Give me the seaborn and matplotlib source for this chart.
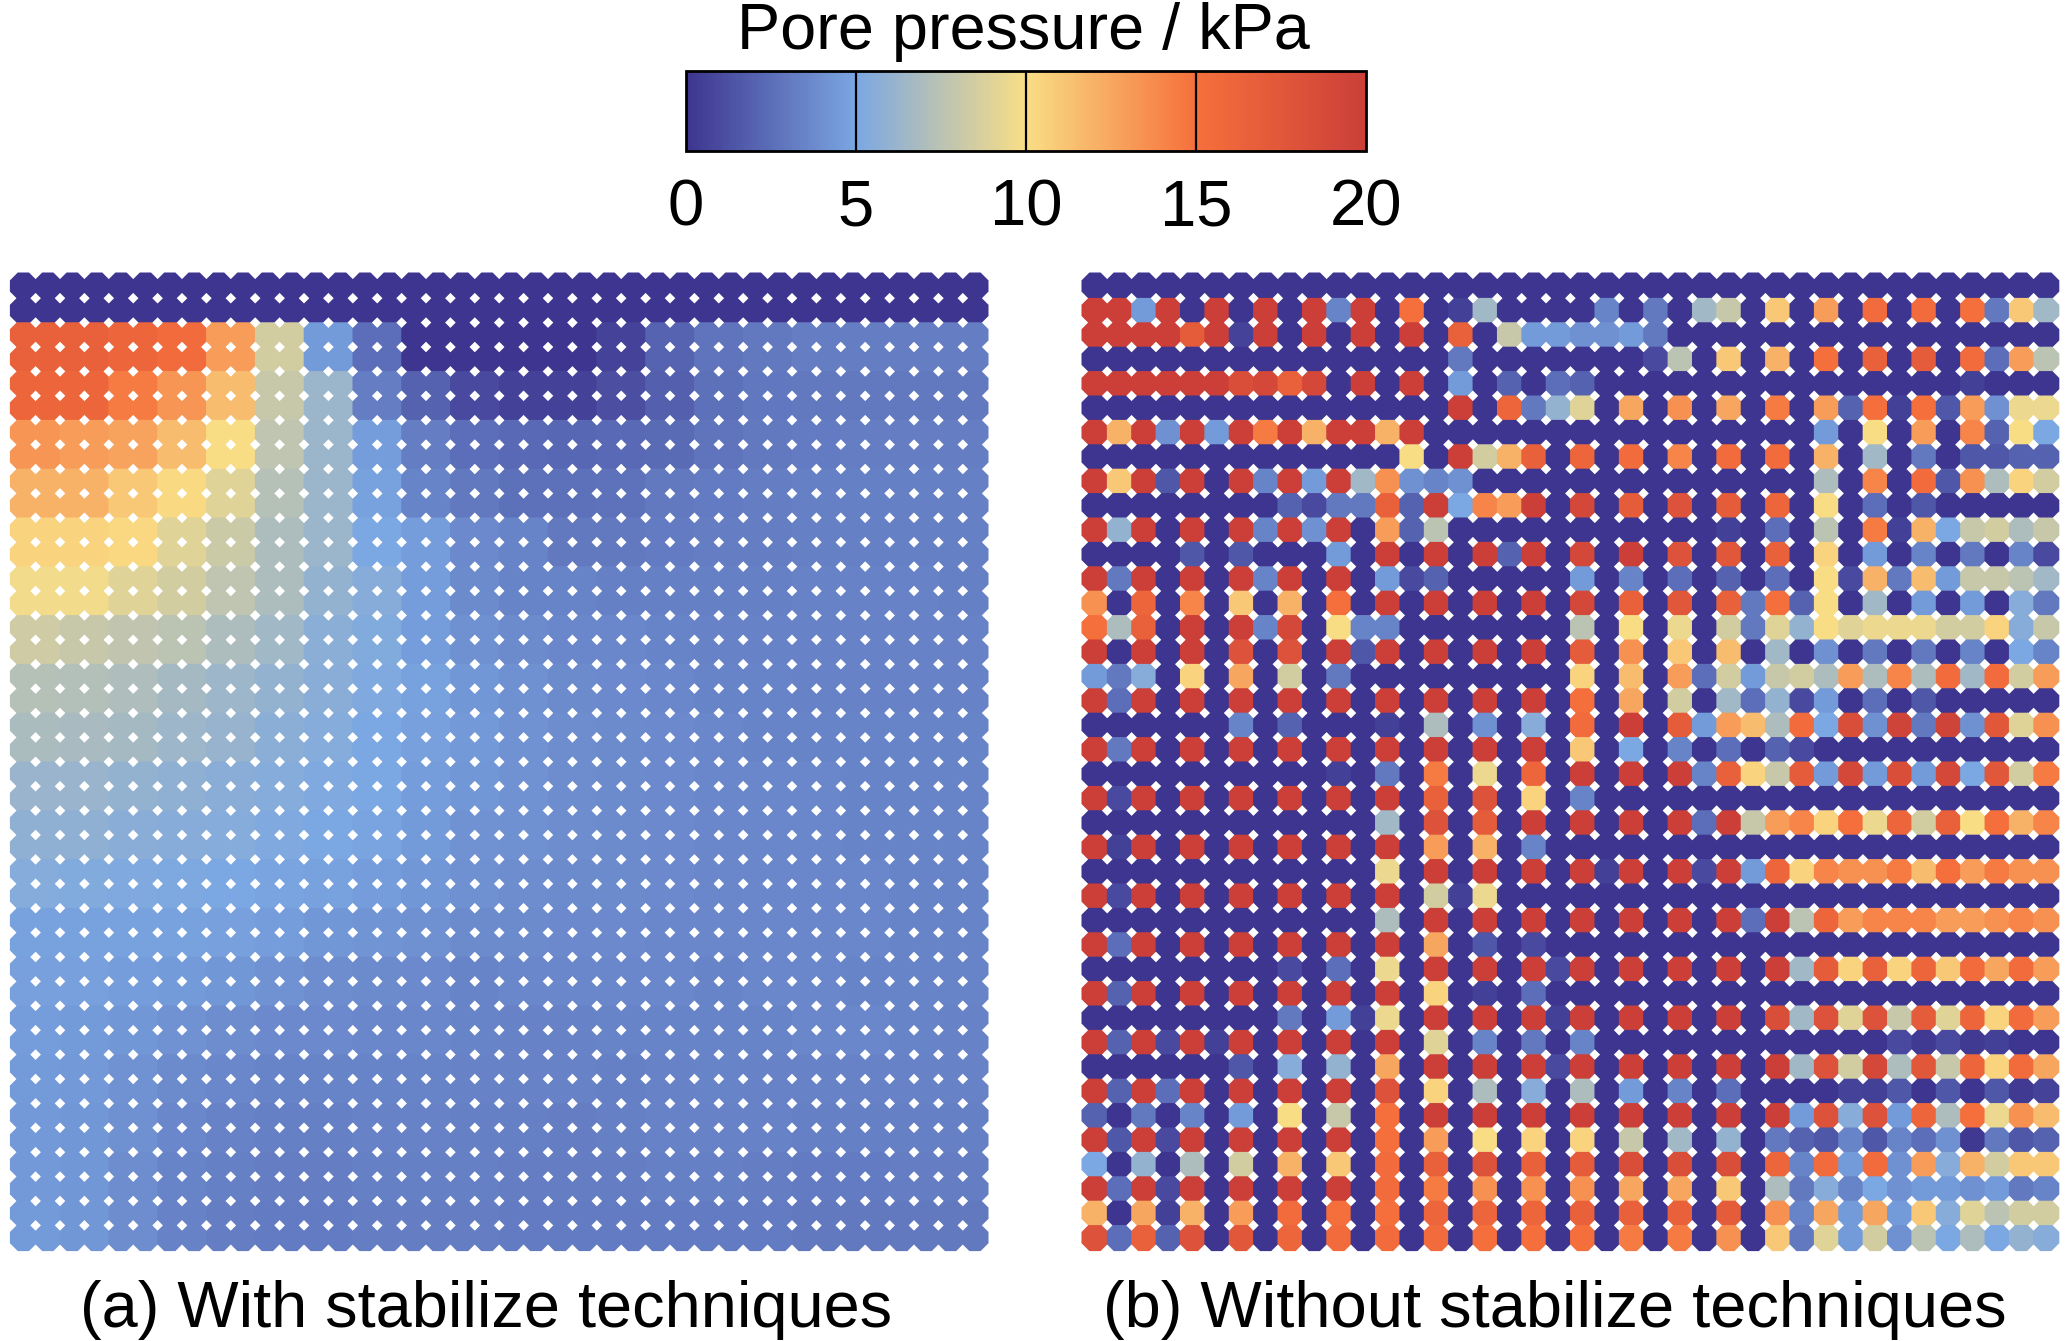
import numpy as np
import pandas as pd
import seaborn as sns
import matplotlib
matplotlib.use('Agg')
import matplotlib.pyplot as plt
from matplotlib.cm import ScalarMappable
from matplotlib.colors import LinearSegmentedColormap, Normalize

sns.set_style('white')
plt.rcParams['font.family'] = ['Liberation Sans', 'DejaVu Sans']
plt.rcParams['text.color'] = 'black'

W, H = 2067, 1341

# colour bar
bar_ticks = [0, 5, 10, 15, 20]
bar_colors = ['#3d358f', '#7ba7e2', '#f9de85', '#f6703c', '#cb3f38']

# (a) with stabilize techniques: value per 2x2 block of measuring points
with_rows = [
    [0] * 20,
    [16.5, 16.5, 16, 15.5, 13, 8.5, 4.5, 2.5, 0, 0, 0, 0, 0.7, 2.1, 2.8, 3, 3.2, 3.2, 3.2, 3.2],
    [16, 16, 14.5, 13.3, 11.5, 8, 6.3, 3.2, 2, 1, 0.6, 0.6, 1.1, 1.9, 2.6, 2.9, 3, 3, 3, 3],
    [13.3, 13, 12.7, 11.5, 10, 7.7, 6.3, 4.6, 3.2, 2.5, 2.3, 2.2, 2.3, 2.4, 2.8, 3, 3.1, 3.2, 3.2, 3.2],
    [12, 12, 11, 10.2, 9, 7.3, 6.3, 4.8, 3.5, 3, 2.6, 2.6, 2.7, 3, 3.1, 3.2, 3.3, 3.3, 3.3, 3.3],
    [10.5, 10.5, 10.3, 9, 8.2, 7, 6.3, 5, 4.6, 3.7, 3.5, 3, 3, 3.1, 3.2, 3.2, 3.3, 3.3, 3.3, 3.3],
    [9.7, 9.7, 9, 8.5, 7.7, 7, 6, 5.5, 4.6, 3.8, 3.5, 3.5, 3.3, 3.3, 3.3, 3.3, 3.4, 3.4, 3.4, 3.3],
    [8.3, 8, 7.8, 7.5, 7, 6.5, 5.7, 5.3, 4.6, 4, 3.8, 3.6, 3.6, 3.5, 3.4, 3.4, 3.4, 3.4, 3.4, 3.4],
    [7.3, 7.2, 7.1, 6.7, 6.4, 6, 5.6, 5.2, 4.8, 4.3, 4, 3.8, 3.7, 3.6, 3.5, 3.5, 3.4, 3.4, 3.4, 3.4],
    [6.9, 6.8, 6.7, 6.4, 6.1, 5.7, 5.4, 5, 4.7, 4.4, 4.1, 3.9, 3.8, 3.7, 3.6, 3.5, 3.5, 3.5, 3.5, 3.5],
    [6.2, 6.2, 6, 5.8, 5.6, 5.4, 5.2, 5, 4.6, 4.3, 4.1, 3.9, 3.8, 3.7, 3.6, 3.6, 3.6, 3.5, 3.5, 3.5],
    [5.8, 5.8, 5.6, 5.5, 5.4, 5.2, 5, 4.9, 4.5, 4.1, 4, 3.9, 3.8, 3.7, 3.6, 3.6, 3.6, 3.5, 3.5, 3.5],
    [5.4, 5.3, 5.2, 5.1, 5, 4.9, 4.8, 4.6, 4.3, 4, 3.9, 3.8, 3.8, 3.7, 3.6, 3.6, 3.6, 3.6, 3.5, 3.5],
    [4.8, 4.8, 4.8, 4.8, 4.7, 4.6, 4.3, 4.2, 4, 3.8, 3.8, 3.7, 3.7, 3.6, 3.6, 3.6, 3.6, 3.6, 3.5, 3.5],
    [4.7, 4.7, 4.6, 4.5, 4.3, 4.1, 3.9, 3.8, 3.7, 3.5, 3.6, 3.6, 3.6, 3.6, 3.5, 3.6, 3.6, 3.5, 3.5, 3.5],
    [4.6, 4.5, 4.3, 4.1, 3.9, 3.7, 3.7, 3.6, 3.6, 3.5, 3.4, 3.4, 3.5, 3.5, 3.5, 3.5, 3.6, 3.6, 3.5, 3.4],
    [4.5, 4.4, 4.1, 3.8, 3.6, 3.5, 3.5, 3.5, 3.5, 3.4, 3.4, 3.4, 3.3, 3.4, 3.5, 3.4, 3.4, 3.4, 3.4, 3.4],
    [4.4, 4.3, 4, 3.6, 3.4, 3.3, 3.3, 3.4, 3.4, 3.3, 3.3, 3.2, 3.3, 3.4, 3.4, 3.4, 3.3, 3.3, 3.3, 3.3],
    [4.4, 4.3, 3.9, 3.5, 3.3, 3.2, 3.2, 3.3, 3.3, 3.3, 3.2, 3.2, 3.2, 3.3, 3.3, 3.2, 3.1, 3.1, 3.2, 3.2],
    [4.5, 4.3, 3.9, 3.4, 3.2, 3.1, 3.1, 3.2, 3.2, 3.2, 3.1, 3.1, 3.1, 3.1, 3.1, 3.1, 3, 3, 3, 3],
]

# (b) without stabilize techniques: one value per measuring point
without_rows = [
    [0] * 40,
    [20, 20, 4.5, 20, 0, 20, 0, 20, 0, 20, 3.5, 20, 0, 15, 0, 0.5, 6.5, 0, 0, 0,
     0, 3.5, 0, 3, 0, 6.5, 8, 0, 11, 0, 13, 0, 15.5, 0, 15.5, 0, 15, 3, 11, 6.5],
    [20, 20, 20, 20, 17, 20, 0.7, 20, 0, 20, 0, 20, 0, 20, 0, 16.5, 0, 8, 4.5, 4.5,
     4, 4, 4.5, 3] + [0] * 16,
    [0] * 15 + [3, 0, 0, 0, 0,
     0, 0, 0, 1, 7.5, 0, 11, 0, 12, 0, 15, 0, 16.5, 0, 17, 0, 15.5, 2.5, 13, 7.5],
    [20, 20, 20, 20, 20, 20, 18.5, 19, 16.5, 19, 0, 20, 0, 20, 0, 4.5, 0, 2, 0, 2.5,
     2] + [0] * 15 + [0.5, 0, 0, 0],
    [0] * 15 + [20, 0, 16, 3, 6,
     9, 0, 12.5, 0, 13.5, 0, 12.5, 0, 14.5, 0, 13, 2, 15, 0.5, 15, 1.5, 13, 4, 9.5, 9.5],
    [20, 12, 20, 4, 20, 4.5, 20, 14.5, 20, 12, 20, 20, 12, 20, 0, 0, 0, 0, 0, 0] + [0] * 10 +
    [4.5, 0, 10, 0, 13, 0, 14, 2, 10, 5],
    [0] * 13 + [10, 0, 20, 8.5, 12, 16.5, 0,
     16, 0, 15.5, 0, 14, 0, 15.5, 0, 15.5, 0, 12, 0, 6.5, 0, 3, 0, 1.5, 1.5, 2, 2],
    [20, 11, 20, 1.5, 20, 0, 20, 3.5, 20, 4.5, 20, 6.5, 13.5, 4, 3.5, 4, 0, 0, 0, 0] + [0] * 10 +
    [7, 0, 14, 0, 15.5, 1.5, 13.5, 7, 10.5, 8.5],
    [0] * 8 + [2, 1, 3, 3, 16.5, 2, 20, 5, 14, 13, 20, 0,
     19, 0, 17, 0, 18, 0, 17, 0, 16, 0, 10, 0, 2.5, 0, 1.5, 0, 0, 0, 0, 0],
    [20, 6, 20, 0, 20, 0, 20, 3.5, 20, 4, 20, 0, 13, 2, 7.5, 0, 0, 0, 0, 0] + [0] * 6 +
    [0.5, 0, 2.5, 0, 7.5, 0, 14.5, 0.5, 12, 5, 8, 8.5, 7, 8],
    [0, 0, 0, 0, 1.5, 0, 1.5, 0, 0, 0, 4.5, 0, 20, 0, 20, 0, 20, 2, 20, 0,
     19, 0, 20, 0, 18, 0, 17.5, 0, 16.5, 0, 10.5, 0, 4.5, 0, 3.5, 0, 3, 0, 3.5, 1],
    [20, 3, 20, 0, 20, 0, 20, 3.5, 20, 0, 20, 0, 4.5, 1, 2, 0, 0, 0, 0, 0,
     4.5, 0, 3.5, 0, 2.5, 0, 2, 0, 2.5, 0, 10, 1, 12, 3, 11.5, 4.5, 8, 8, 7.5, 6.5],
    [13.5, 0, 16, 0, 14, 0, 11, 0, 12, 0, 15, 0, 20, 0, 20, 0, 20, 0, 20, 0,
     19, 0, 16.5, 0, 17.5, 0, 16.5, 3, 15, 2, 10, 0, 6.5, 0, 4.5, 0, 4.5, 0, 5.5, 3],
    [15, 7, 16.5, 0, 20, 0, 20, 3.5, 19, 0, 10, 3.5, 3.5, 0, 0, 0, 0, 0, 0, 0,
     7.5, 0, 10, 0, 9.5, 0, 8.5, 3, 9, 6, 10, 9, 9.5, 9.5, 9.5, 8.5, 8.5, 10.5, 5.5, 8],
    [20, 0, 20, 0, 20, 0, 18, 0, 18, 0, 20, 1.5, 20, 0, 20, 0, 20, 0, 20, 0,
     17, 0, 13.5, 0, 11, 0, 11.5, 0, 6.5, 0, 4, 0, 3, 0, 3, 0, 3.5, 0, 5, 3.5],
    [4.5, 3, 5.5, 0, 10.5, 0, 12.5, 0, 8.5, 0, 3, 0, 0, 0, 0, 0, 0, 0, 0, 0,
     10.5, 0, 11.5, 0, 13, 2.5, 8.5, 4.5, 8, 8.5, 7, 13, 7, 14, 7, 15.5, 6.5, 15.5, 8.5, 13],
    [20, 2.5, 20, 0, 20, 0, 20, 0, 20, 0, 20, 0, 20, 0, 20, 0, 20, 0, 20, 0,
     15, 0, 12.5, 0, 8.5, 0, 6.5, 2.5, 6, 1, 4.5, 0, 2.5, 0, 1.5, 0, 0, 0, 0, 0],
    [0, 0, 0, 0, 0, 0, 3.5, 0, 2, 0, 0, 0, 0.5, 0, 7, 0, 4, 0, 5.5, 0,
     15.5, 0, 20, 0, 17, 4.5, 13, 11.5, 7, 15.5, 5, 18.5, 4, 19.5, 3, 19.5, 4, 17.5, 9, 13.5],
    [20, 3, 20, 0, 20, 0, 20, 0, 20, 0, 20, 0, 20, 0, 20, 0, 20, 0, 20, 0,
     11, 0, 5, 0, 3.5, 0, 2.5, 0, 2, 1] + [0] * 10,
    [0] * 10 + [0.5, 0, 3, 0, 14.5, 0, 9.5, 0, 16, 0,
     20, 0, 20, 0, 20, 3.5, 16.5, 10.5, 8, 17, 4.5, 19, 4.5, 18.5, 4.5, 19, 5, 17.5, 8.5, 14.5],
    [20, 1, 20, 0, 20, 0, 20, 0, 20, 0, 20, 0, 20, 0, 16.5, 0, 18, 0, 10.5, 0, 3.5] + [0] * 19,
    [0] * 12 + [6.5, 0, 18, 0, 17, 0, 20, 0,
     20, 0, 20, 0, 20, 2.5, 20, 8, 13, 14, 10.5, 15, 9.5, 16, 8.5, 16.5, 10, 15, 12, 14],
    [20, 0.5, 20, 0, 20, 0, 20, 0, 20, 0, 20, 0, 20, 0, 13, 0, 12, 0, 3.5, 0] + [0] * 20,
    [0] * 12 + [9.5, 0, 20, 0, 20, 0, 20, 0,
     20, 0.5, 20, 0, 20, 1, 20, 4.5, 16, 10.5, 14, 13.5, 13.5, 14.5, 11.5, 15, 13, 14.5, 13.5, 13.5],
    [20, 1, 20, 0, 20, 0, 20, 0, 20, 0, 20, 0, 20, 0, 8.5, 0.5, 9.5, 0, 0, 0] + [0] * 20,
    [0] * 12 + [7, 0, 20, 0, 20, 0, 20, 0,
     20, 0, 20, 0, 20, 0, 20, 2.5, 20, 7.5, 16, 13, 14, 14, 14, 13, 13, 13.5, 14, 13.5],
    [20, 2.5, 20, 0, 20, 0, 20, 0, 20, 0, 20, 0, 20, 0, 12.5, 0, 1.5, 0, 1, 0] + [0] * 20,
    [0] * 8 + [1, 0, 2.5, 0, 9.5, 0, 20, 0, 20, 0, 20, 1,
     20, 0, 20, 0, 20, 0, 20, 0, 20, 6.5, 17, 10.5, 16.5, 10.5, 16, 11, 15.5, 12.5, 15.5, 13],
    [20, 2, 20, 0, 20, 0, 20, 0, 20, 0, 20, 0, 20, 0, 10.5, 0, 0.5, 0, 2.5, 0] + [0] * 20,
    [0] * 8 + [3, 0, 4.5, 0.5, 9.5, 0, 20, 0, 20, 0, 20, 0.5,
     20, 0, 20, 0, 20, 0, 20, 0, 18.5, 6.5, 18, 9, 18, 8, 17, 9, 16, 10.5, 15.5, 13],
    [20, 2, 20, 1, 20, 0.5, 20, 0, 20, 0, 20, 0, 20, 0, 9, 0, 3.5, 0, 3, 0, 3.5] + [0] * 12 +
    [1, 0.3, 1, 0.3, 0.5, 0, 0],
    [0] * 6 + [1.5, 0, 5.5, 0, 6, 0, 12.5, 0, 20, 0, 20, 0, 20, 1,
     20, 0, 20, 0, 20, 0, 20, 0, 20, 6.5, 18, 8.5, 19, 7, 17.5, 8, 16, 10.5, 15.5, 12.5],
    [20, 2, 20, 2.5, 20, 0, 20, 0, 20, 0, 20, 0, 18, 0, 10.5, 0, 7, 0, 5.5, 0,
     7, 0, 4.5, 0, 3.5, 0, 2.5, 0, 0, 0, 0, 0.7, 0.5, 1.5, 0, 1.5, 0, 1.5, 0.3, 0.7],
    [2, 0, 3, 0, 3.5, 0, 4.5, 0, 10, 0, 8, 0, 15, 0, 20, 0, 20, 0, 20, 0,
     20, 0, 20, 0, 20, 0, 20, 0, 20, 4.5, 18, 5.5, 18, 4.5, 16, 7, 15, 9.5, 13.5, 11.5],
    [20, 1.5, 20, 1, 20, 0, 20, 0, 20, 0, 20, 0, 15, 0, 13, 0, 10, 0, 10.5, 0,
     10.5, 0, 8, 0, 6.5, 0, 6, 0, 3, 2, 1.5, 3.5, 1.5, 3.5, 2.5, 4, 0.2, 3, 1.5, 2],
    [5, 0, 6, 0, 7, 0, 8.5, 0, 12, 0, 11, 0, 15.5, 0, 16.5, 0, 18, 0, 16.5, 0,
     17, 0, 18.5, 0, 18.5, 0, 18.5, 0, 16, 3.5, 15.5, 4.5, 15.5, 4, 13, 5.5, 12, 8.5, 11, 11],
    [20, 2.5, 20, 1, 20, 0, 20, 0, 20, 0, 20, 0, 15.5, 0, 14.5, 0, 13.5, 0, 13.5, 0,
     13.5, 0, 12.5, 0, 12.5, 0, 11, 0, 7, 3, 5.5, 3.5, 5, 4, 4.5, 4.5, 4, 4.5, 3, 3.5],
    [12, 0, 12.5, 0.5, 12, 0, 13, 0, 15.5, 0, 15, 0, 15, 0, 16, 0, 16, 0, 16, 0,
     16.5, 0, 16.5, 0, 16.5, 0, 17, 0, 13.5, 3.5, 12.5, 4.5, 12.5, 4.5, 11, 5.5, 9, 7.5, 8.5, 8.5],
    [18, 2.5, 16.5, 2, 18, 0, 17.5, 0, 16, 0, 15.5, 0, 15.5, 0, 15.5, 0, 15, 0, 15, 0,
     15, 0, 14.5, 0, 14.5, 0, 13.5, 0, 11, 3, 9, 4.5, 8.5, 4, 7.5, 5, 7, 5, 6, 5.5],
]

pore_cmap = LinearSegmentedColormap.from_list('pore', bar_colors)


def px_axes(fig, x0, y0, x1, y1):
    # axes from pixel box, y counted from the top of the image
    return fig.add_axes([x0 / W, 1 - y1 / H, (x1 - x0) / W, (y1 - y0) / H])


def long_table(matrix):
    rows, cols = np.indices(matrix.shape)
    return pd.DataFrame({'col': cols.ravel(), 'row': rows.ravel(), 'kpa': matrix.ravel()})


def draw_panel(ax, matrix):
    table = long_table(matrix)
    # big octagons give the scalloped edge and the white gaps, smaller ones on
    # top keep the border between two neighbours half way, like in the original
    for size in [443, 380]:
        sns.scatterplot(data=table, x='col', y='row', hue='kpa',
                        palette=pore_cmap, hue_norm=(0, 20), s=size, marker='8',
                        linewidth=0, legend=False, clip_on=False, ax=ax)
    ax.set_xlim(-0.5, 39.5)
    ax.set_ylim(39.5, -0.5)
    ax.axis('off')


with_pts = np.repeat(np.repeat(np.array(with_rows, dtype=float), 2, axis=0), 2, axis=1)
without_pts = np.array(without_rows, dtype=float)

fig = plt.figure(figsize=(W / 100, H / 100), dpi=100)

ax_a = px_axes(fig, 11.2, 273.8, 987.2, 1249.8)
draw_panel(ax_a, with_pts)
ax_b = px_axes(fig, 1082.8, 273.8, 2058, 1249.8)
draw_panel(ax_b, without_pts)

# colour bar on top
cax = px_axes(fig, 686, 71, 1366, 151)
cb = fig.colorbar(ScalarMappable(Normalize(0, 20), pore_cmap), cax=cax, orientation='horizontal')
cb.set_ticks(bar_ticks)
cb.ax.tick_params(length=0, pad=20, labelsize=47, labelcolor='black')
cb.outline.set_edgecolor('black')
cb.outline.set_linewidth(2)
for t in bar_ticks[1:-1]:
    cax.axvline(t, color='black', lw=1.6)

fig.text(1023 / W, 1 - 49 / H, 'Pore pressure / kPa', ha='center', va='baseline', fontsize=46.6)
fig.text(486 / W, 1 - 1327 / H, '(a) With stabilize techniques', ha='center', va='baseline', fontsize=46.7)
fig.text(1555 / W, 1 - 1327 / H, '(b) Without stabilize techniques', ha='center', va='baseline', fontsize=46.8)

fig.savefig('out.png', dpi=100)
